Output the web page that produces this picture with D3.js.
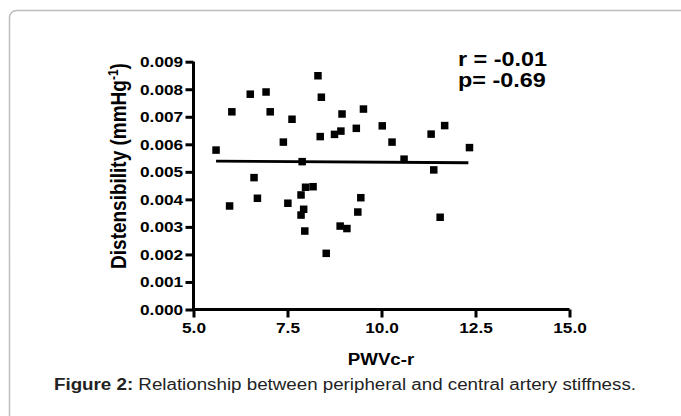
<!DOCTYPE html>
<html>
<head>
<meta charset="utf-8">
<script src="https://cdn.jsdelivr.net/npm/d3@7"></script>
<style>
  html, body { margin: 0; padding: 0; background: #fff; }
  svg { display: block; font-family: "Liberation Sans", Arial, sans-serif; }
</style>
</head>
<body>
<svg id="chart" width="681" height="416"></svg>
<script>
// PWVc-r (x) vs distensibility (y)
const pwv = [5.60, 6.02, 6.51, 6.93, 7.04, 7.62, 7.39, 8.31, 8.40, 8.37, 8.75, 8.92, 8.95, 7.89, 6.61,
  9.52, 9.33, 10.02, 10.28, 10.60, 11.32, 11.68, 12.34, 11.39,
  5.96, 6.70, 7.51, 7.86, 7.98, 8.18, 7.93, 7.86, 7.96, 8.53, 8.90, 9.08, 9.45, 9.37, 11.56];
const dist = [0.00579, 0.00718, 0.00782, 0.00790, 0.00718, 0.00691, 0.00608, 0.00849, 0.00771, 0.00628, 0.00636, 0.00648, 0.00710, 0.00537, 0.00479,
  0.00728, 0.00658, 0.00667, 0.00608, 0.00546, 0.00637, 0.00668, 0.00588, 0.00507,
  0.00376, 0.00404, 0.00386, 0.00416, 0.00444, 0.00446, 0.00364, 0.00343, 0.00285, 0.00204, 0.00303, 0.00294, 0.00406, 0.00354, 0.00335];
// regression line end points
const fitX = [5.60, 12.31];
const fitY = [0.00539, 0.00533];

const xTicks = [5, 7.5, 10, 12.5, 15];
const yTicks = [0, 0.001, 0.002, 0.003, 0.004, 0.005, 0.006, 0.007, 0.008, 0.009];
const statLines = ["r = -0.01", "p= -0.69"];

const svg = d3.select("#chart");
const SX = 1.15; // source image is stretched sideways

// frame
svg.append("rect")
  .attr("x", 9.5).attr("y", 10.5)
  .attr("width", 720).attr("height", 440)
  .attr("rx", 7)
  .attr("fill", "none")
  .attr("stroke", "#bdbdbd")
  .attr("stroke-width", 1.5);

const x = d3.scaleLinear().domain([5, 15]).range([193.5, 569.5]);
const y = d3.scaleLinear().domain([0, 0.009]).range([309.5, 61.7]);

const gx = svg.append("g")
  .attr("transform", "translate(0," + y(0) + ")")
  .call(d3.axisBottom(x).tickValues(xTicks).tickFormat(d3.format(".1f")).tickSize(8).tickPadding(5));
const gy = svg.append("g")
  .attr("transform", "translate(" + x(5) + ",0)")
  .call(d3.axisLeft(y).tickValues(yTicks).tickFormat(d3.format(".3f")).tickSize(8).tickPadding(1));

[gx, gy].forEach(g => {
  g.select(".domain").attr("stroke", "#000").attr("stroke-width", 3);
  g.selectAll(".tick line").attr("stroke", "#000").attr("stroke-width", 3);
  g.selectAll(".tick text")
    .attr("fill", "#000")
    .attr("font-size", "15px")
    .attr("font-weight", "700")
    .attr("font-family", "'Liberation Sans', Arial, sans-serif")
    .attr("transform", "scale(" + SX + ",1)");
});
// remove outer tick stubs that d3 draws on the domain path
gx.select(".domain").attr("d", "M" + x(5) + ",0H" + x(15));
gy.select(".domain").attr("d", "M0," + y(0) + "V" + y(0.009));

// regression line
svg.append("path")
  .attr("d", d3.line().x(d => x(d[0])).y(d => y(d[1]))(d3.zip(fitX, fitY)))
  .attr("stroke", "#000")
  .attr("stroke-width", 2.8)
  .attr("fill", "none");

// points
const S = 7.5;
svg.append("g").selectAll("rect")
  .data(d3.zip(pwv, dist))
  .enter().append("rect")
  .attr("x", d => x(d[0]) - S / 2)
  .attr("y", d => y(d[1]) - S / 2)
  .attr("width", S).attr("height", S)
  .attr("fill", "#000");

// stats text
svg.append("g").selectAll("text")
  .data(statLines)
  .enter().append("text")
  .attr("transform", (d, i) => "translate(458," + (66 + i * 20.5) + ") scale(1.2,1)")
  .attr("font-size", "19.5px")
  .attr("font-weight", "700")
  .attr("fill", "#000")
  .text(d => d);

// x label
svg.append("text")
  .attr("transform", "translate(381,365) scale(1.1,1)")
  .attr("text-anchor", "middle")
  .attr("font-size", "17px")
  .attr("font-weight", "700")
  .text("PWVc-r");

// y label
const yl = svg.append("text")
  .attr("transform", "translate(126,166) scale(1.2,1) rotate(-90)")
  .attr("text-anchor", "middle")
  .attr("font-size", "19px")
  .attr("font-weight", "700");
yl.append("tspan").text("Distensibility (mmHg");
yl.append("tspan").attr("font-size", "12px").attr("dy", "-7").text("-1");
yl.append("tspan").attr("dy", "7").text(")");

// caption
const cap = svg.append("text")
  .attr("x", 54).attr("y", 390)
  .attr("font-size", "16px")
  .attr("fill", "#222")
  .attr("textLength", 582)
  .attr("lengthAdjust", "spacingAndGlyphs");
cap.append("tspan").attr("font-weight", "700").text("Figure 2:");
cap.append("tspan").text(" Relationship between peripheral and central artery stiffness.");
</script>
</body>
</html>
